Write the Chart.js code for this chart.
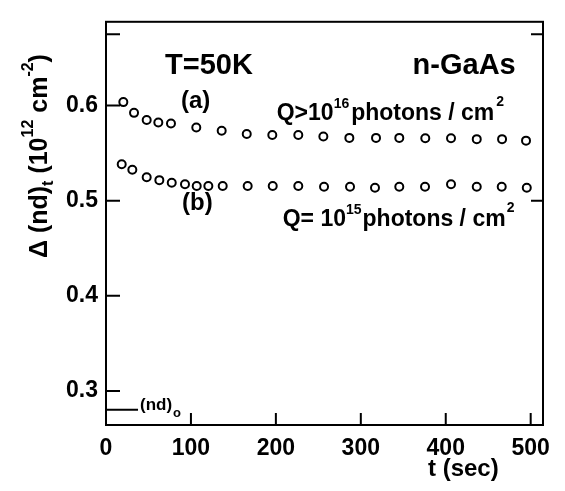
<!DOCTYPE html>
<html><head><meta charset="utf-8">
<script src="https://cdn.jsdelivr.net/npm/chart.js@4.4.1/dist/chart.umd.min.js"></script>
<style>html,body{margin:0;padding:0;background:#fff}</style>
</head><body>
<canvas id="c" width="565" height="491"></canvas>
<script>
// Series (a): Q > 10^16 photons/cm^2
const timeA = [20.4, 33.0, 47.9, 61.6, 76.5, 106.3, 136.2, 165.7, 195.8, 226.4, 255.9, 286.5, 317.9, 345.3, 375.9, 406.2, 436.5, 466.3, 494.5];
const valA  = [0.6036, 0.5923, 0.5849, 0.5821, 0.5811, 0.5770, 0.5736, 0.5701, 0.5691, 0.5691, 0.5674, 0.5660, 0.5660, 0.5660, 0.5657, 0.5657, 0.5647, 0.5647, 0.5631];
// Series (b): Q = 10^15 photons/cm^2
const timeB = [18.5, 31.0, 47.9, 62.8, 77.4, 93.0, 106.8, 120.5, 137.4, 166.8, 196.3, 226.4, 256.7, 287.3, 316.7, 345.3, 375.6, 406.2, 436.5, 465.9, 495.4];
const valB  = [0.5383, 0.5326, 0.5247, 0.5216, 0.5188, 0.5172, 0.5155, 0.5155, 0.5155, 0.5155, 0.5155, 0.5155, 0.5147, 0.5147, 0.5137, 0.5147, 0.5147, 0.5172, 0.5147, 0.5147, 0.5137];
// (nd)_0 reference level
const ndZeroT = [0, 37.7];
const ndZeroV = [0.2804, 0.2804];
// ticks
const xTicks = [0, 100, 200, 300, 400, 500];
const yTicks = [0.3, 0.4, 0.5, 0.6];
const yLeftExtraTicks = [0.675];
const yRightTicks = [0.675, 0.5];
const xRange = [0, 514.5];
const yRange = [0.2643, 0.688];

const FONT = "'Liberation Sans', Arial, sans-serif";

function pts(xs, ys) { return xs.map((x, i) => ({x: x, y: ys[i]})); }

// draw rich text: segments [{t, size, dy, gap}] along baseline
function rich(ctx, x, y, segs) {
  let cx = x;
  for (const s of segs) {
    ctx.font = `bold ${s.size}px ${FONT}`;
    ctx.fillText(s.t, cx, y - (s.dy || 0));
    cx += ctx.measureText(s.t).width + (s.gap || 0);
  }
}

const decor = {
  id: 'decor',
  afterDraw(chart) {
    const ctx = chart.ctx, xs = chart.scales.x, ys = chart.scales.y, a = chart.chartArea;
    ctx.save();
    ctx.strokeStyle = '#000';
    ctx.fillStyle = '#000';
    ctx.lineWidth = 2;
    ctx.strokeRect(a.left, a.top, a.right - a.left, a.bottom - a.top);
    ctx.beginPath();
    for (const v of yTicks.concat(yLeftExtraTicks)) {
      const y = ys.getPixelForValue(v);
      ctx.moveTo(a.left, y); ctx.lineTo(a.left + 14, y);
    }
    for (const v of yRightTicks) {
      const y = ys.getPixelForValue(v);
      ctx.moveTo(a.right, y); ctx.lineTo(a.right - 12, y);
    }
    for (const v of xTicks) {
      if (v === 0) continue;
      const x = xs.getPixelForValue(v);
      ctx.moveTo(x, a.bottom); ctx.lineTo(x, a.bottom - 12);
    }
    ctx.stroke();

    ctx.textBaseline = 'alphabetic';
    ctx.textAlign = 'left';
    const P = (t, v) => [xs.getPixelForValue(t), ys.getPixelForValue(v)];
    let p;
    p = P(69.5, 0.6334); rich(ctx, p[0], p[1], [{t: 'T=50K', size: 29}]);
    p = P(361, 0.6334); rich(ctx, p[0], p[1], [{t: 'n-GaAs', size: 29}]);
    p = P(88.3, 0.5974); rich(ctx, p[0], p[1], [{t: '(a)', size: 24}]);
    p = P(89.5, 0.490); rich(ctx, p[0], p[1], [{t: '(b)', size: 24}]);
    p = P(201, 0.5851); rich(ctx, p[0], p[1], [
      {t: 'Q>10', size: 23}, {t: '16', size: 14, dy: 12, gap: 2}, {t: 'photons / cm', size: 23, gap: 2}, {t: '2', size: 14, dy: 14}]);
    p = P(208, 0.4734); rich(ctx, p[0], p[1], [
      {t: 'Q= 10', size: 23}, {t: '15', size: 14, dy: 12, gap: 1}, {t: 'photons / cm', size: 23, gap: 1}, {t: '2', size: 14, dy: 14}]);
    p = P(40, 0.2805); rich(ctx, p[0], p[1], [{t: '(nd)', size: 17, gap: 1}, {t: 'o', size: 13, dy: -7}]);

    // axis titles
    rich(ctx, 428, 476, [{t: 't (sec)', size: 24}]);
    ctx.save();
    ctx.translate(47, 258);
    ctx.rotate(-Math.PI / 2);
    rich(ctx, 0, 0, [
      {t: 'Δ (nd)', size: 25}, {t: 't', size: 16, dy: -6}, {t: ' (10', size: 25}, {t: '12', size: 16, dy: 14},
      {t: ' cm', size: 25}, {t: '-2', size: 16, dy: 14}, {t: ')', size: 25}]);
    ctx.restore();
    ctx.restore();
  }
};

const ptStyle = {showLine: false, pointStyle: 'circle', pointRadius: 4, pointBorderWidth: 2,
  pointBackgroundColor: '#fff', pointBorderColor: '#000', borderColor: '#000', backgroundColor: '#fff'};

new Chart(document.getElementById('c'), {
  type: 'scatter',
  data: {
    datasets: [
      Object.assign({label: 'a', data: pts(timeA, valA)}, ptStyle),
      Object.assign({label: 'b', data: pts(timeB, valB)}, ptStyle),
      {label: 'nd0', data: pts(ndZeroT, ndZeroV), showLine: true, borderColor: '#000', borderWidth: 2, pointRadius: 0}
    ]
  },
  options: {
    responsive: false, animation: false, devicePixelRatio: 1,
    layout: {padding: {top: 12, right: 22, left: 0, bottom: 0}},
    plugins: {legend: {display: false}, tooltip: {enabled: false}},
    scales: {
      x: {
        type: 'linear', min: xRange[0], max: xRange[1],
        afterBuildTicks: s => { s.ticks = xTicks.map(v => ({value: v})); },
        afterFit: s => { s.height = 66; },
        grid: {display: false, drawTicks: false}, border: {display: false},
        ticks: {padding: 10, color: '#000', font: {family: FONT, size: 23, weight: 'bold'}, maxRotation: 0,
          callback: v => String(v)}
      },
      y: {
        type: 'linear', min: yRange[0], max: yRange[1],
        afterBuildTicks: s => { s.ticks = yTicks.map(v => ({value: v})); },
        afterFit: s => { s.width = 106; },
        grid: {display: false, drawTicks: false}, border: {display: false},
        ticks: {padding: 8, color: '#000', font: {family: FONT, size: 23, weight: 'bold'},
          callback: v => Number(v).toFixed(1)}
      }
    }
  },
  plugins: [decor]
});
</script>
</body></html>
